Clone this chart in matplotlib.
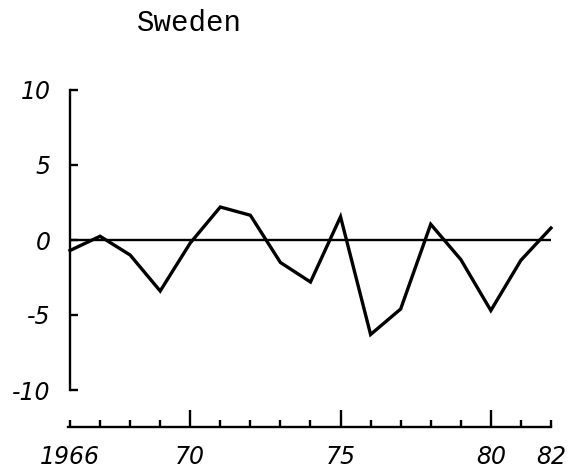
import matplotlib
matplotlib.use("Agg")
import matplotlib.pyplot as plt

title = "Sweden"
years = list(range(1966, 1983))
values = [-0.7, 0.25, -1.0, -3.4, -0.2, 2.2, 1.65, -1.5, -2.8, 1.55,
          -6.3, -4.6, 1.05, -1.3, -4.7, -1.35, 0.8]
y_ticks = [10, 5, 0, -5, -10]
y_labels = ["10", "5", "0", "-5", "-10"]
x_major = [1970, 1975, 1980]
x_major_labels = ["70", "75", "80"]
x_minor = [y for y in years if y not in x_major]
x_minor_labels = ["1966" if y == 1966 else ("82" if y == 1982 else "") for y in x_minor]

W, H = 580, 473
fig = plt.figure(figsize=(W / 100, H / 100), dpi=100)
ax = fig.add_axes([0, 0, 1, 1])
px_per_year = 30.06
ax.set_xlim(1966 - 70 / px_per_year, 1966 + (W - 70) / px_per_year)
ax.set_ylim((240 - H) / 15.0, 240 / 15.0)

ax.plot(years, values, color="black", lw=2.4, solid_joinstyle="miter")
ax.hlines(0, years[0], years[-1], color="black", lw=1.7)

for s in ["top", "right"]:
    ax.spines[s].set_visible(False)
ax.spines["left"].set_position(("data", 1966))
ax.spines["left"].set_bounds(-10, 10)
ax.spines["bottom"].set_position(("data", (240 - 427) / 15.0))
ax.spines["bottom"].set_bounds(years[0] - 0.08, years[-1])
for s in ["left", "bottom"]:
    ax.spines[s].set_linewidth(1.7)

hand = dict(family="DejaVu Sans", style="italic", size=17)
ax.set_yticks(y_ticks, labels=y_labels, **hand)
ax.set_xticks(x_major, labels=x_major_labels, **hand)
ax.set_xticks(x_minor, labels=x_minor_labels, minor=True, **hand)
ax.tick_params(axis="y", direction="in", length=6, width=1.7, pad=14)
ax.tick_params(axis="x", which="major", direction="in", length=12, width=1.7, pad=13)
ax.tick_params(axis="x", which="minor", direction="in", length=5, width=1.7, pad=13)
ax.set_facecolor("white")

fig.text(189 / W, 1 - 31 / H, title, family="Liberation Mono", size=21,
         ha="center", va="baseline")

fig.savefig("out.png", dpi=100, facecolor="white")
